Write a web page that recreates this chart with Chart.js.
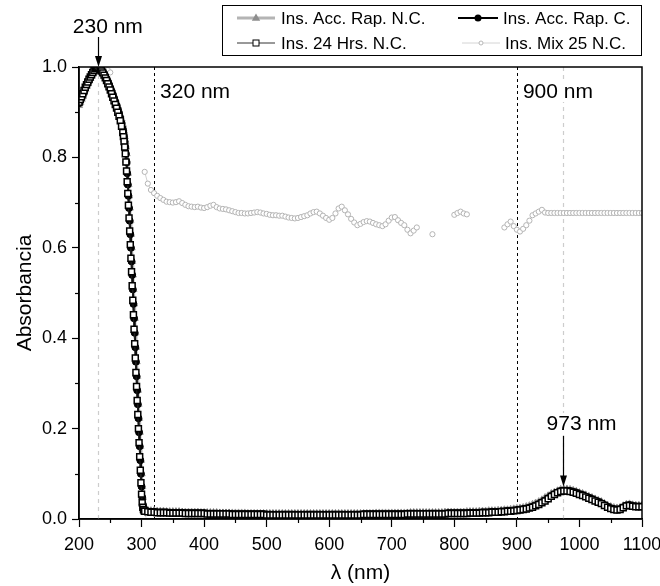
<!DOCTYPE html>
<html>
<head>
<meta charset="utf-8">
<script src="https://cdn.jsdelivr.net/npm/chart.js"></script>
<style>
  html, body { margin: 0; padding: 0; background: #fff; overflow: hidden; }
</style>
</head>
<body>
<canvas id="chart" width="700" height="586"></canvas>
<script>
// Espectros UV-Vis-NIR: absorbancia normalizada vs longitud de onda

const seriesNames = ['Ins. Acc. Rap. N.C.', 'Ins. Acc. Rap. C.', 'Ins. 24 Hrs. N.C.', 'Ins. Mix 25 N.C.'];

// longitudes de onda (nm)
const wlPeak = [200, 202, 204, 206, 208, 210, 212, 214, 216, 218, 220, 222, 224, 226, 228, 230, 232, 234,
  236, 238, 240, 242, 244, 246, 248, 250, 252, 254, 256, 258, 260, 262, 264, 266, 268, 270];
const wlDrop = [271, 272, 273, 274, 275, 276, 277, 278, 279, 280, 281, 282, 283, 284, 285, 286, 287, 288,
  289, 290, 291, 292, 293, 294, 295, 296, 297, 298, 299, 300, 301, 302, 303, 304, 305];
const wlFlat = [
  310, 315, 320, 325, 330, 335, 340, 345, 350, 355,
  360, 365, 370, 375, 380, 385, 390, 395, 400, 405,
  410, 415, 420, 425, 430, 435, 440, 445, 450, 455,
  460, 465, 470, 475, 480, 485, 490, 495, 500, 505,
  510, 515, 520, 525, 530, 535, 540, 545, 550, 555,
  560, 565, 570, 575, 580, 585, 590, 595, 600, 605,
  610, 615, 620, 625, 630, 635, 640, 645, 650, 655,
  660, 665, 670, 675, 680, 685, 690, 695, 700, 705,
  710, 715, 720, 725, 730, 735, 740, 745, 750, 755,
  760, 765, 770, 775, 780, 785, 790, 795, 800, 805,
  810, 815, 820, 825, 830, 835, 840, 845, 850, 855,
  860, 865, 870, 875, 880, 885, 890, 895, 900, 905,
  910, 915, 920, 925, 930, 935, 940, 945, 950, 955,
  960, 965, 970, 975, 980, 985, 990, 995, 1000, 1005,
  1010, 1015, 1020, 1025, 1030, 1035, 1040, 1045, 1050, 1055,
  1060, 1065, 1070, 1075, 1080, 1085, 1090, 1095, 1100];
const wl = wlPeak.concat(wlDrop, wlFlat);

// Ins. Acc. Rap. N.C.
const absAccNC = [
  0.915, 0.921, 0.928, 0.935, 0.943, 0.950, 0.957, 0.963, 0.969, 0.975,
  0.980, 0.985, 0.989, 0.993, 0.996, 0.998, 0.999, 0.998, 0.996, 0.993,
  0.989, 0.984, 0.979, 0.973, 0.967, 0.960, 0.953, 0.946, 0.938, 0.930,
  0.922, 0.914, 0.905, 0.895, 0.885, 0.873,
  0.863, 0.855, 0.846, 0.835, 0.823, 0.808, 0.790, 0.765, 0.740, 0.715,
  0.688, 0.660, 0.630, 0.600, 0.570, 0.540, 0.508, 0.476, 0.444, 0.412,
  0.380, 0.348, 0.316, 0.285, 0.254, 0.223, 0.192, 0.161, 0.130, 0.100,
  0.072, 0.048, 0.032, 0.025, 0.021,
  0.019, 0.018, 0.018, 0.017, 0.017, 0.017, 0.016, 0.016, 0.016, 0.016,
  0.016, 0.015, 0.015, 0.015, 0.015, 0.015, 0.015, 0.014, 0.014, 0.014,
  0.014, 0.014, 0.014, 0.013, 0.013, 0.013, 0.013, 0.013, 0.013, 0.013,
  0.013, 0.013, 0.012, 0.012, 0.012, 0.012, 0.012, 0.012, 0.012, 0.012,
  0.012, 0.012, 0.012, 0.012, 0.012, 0.012, 0.012, 0.012, 0.012, 0.012,
  0.012, 0.012, 0.012, 0.012, 0.012, 0.012, 0.012, 0.012, 0.012, 0.012,
  0.012, 0.012, 0.012, 0.012, 0.012, 0.012, 0.012, 0.012, 0.012, 0.012,
  0.012, 0.012, 0.012, 0.013, 0.013, 0.013, 0.013, 0.013, 0.013, 0.013,
  0.013, 0.013, 0.013, 0.013, 0.014, 0.014, 0.014, 0.014, 0.014, 0.014,
  0.014, 0.014, 0.014, 0.014, 0.014, 0.015, 0.015, 0.015, 0.015, 0.015,
  0.015, 0.015, 0.016, 0.016, 0.016, 0.016, 0.017, 0.017, 0.017, 0.018,
  0.018, 0.018, 0.019, 0.019, 0.020, 0.020, 0.021, 0.022, 0.023, 0.024,
  0.025, 0.027, 0.029, 0.032, 0.035, 0.038, 0.042, 0.047, 0.051, 0.056,
  0.059, 0.062, 0.065, 0.066, 0.066, 0.065, 0.063, 0.061, 0.058, 0.056,
  0.053, 0.050, 0.047, 0.044, 0.041, 0.038, 0.034, 0.030, 0.027, 0.025,
  0.024, 0.025, 0.029, 0.032, 0.033, 0.031, 0.030, 0.030, 0.030];

// Ins. Acc. Rap. C.
const absAccC = [
  0.920, 0.926, 0.932, 0.939, 0.946, 0.953, 0.959, 0.965, 0.971, 0.977,
  0.982, 0.987, 0.991, 0.995, 0.998, 1.000, 0.999, 0.997, 0.994, 0.990,
  0.985, 0.980, 0.974, 0.968, 0.961, 0.954, 0.947, 0.939, 0.931, 0.923,
  0.915, 0.906, 0.897, 0.887, 0.876, 0.863,
  0.855, 0.846, 0.835, 0.823, 0.808, 0.790, 0.765, 0.740, 0.715, 0.688,
  0.660, 0.630, 0.600, 0.570, 0.540, 0.508, 0.476, 0.444, 0.412, 0.380,
  0.348, 0.316, 0.285, 0.254, 0.223, 0.192, 0.161, 0.130, 0.100, 0.072,
  0.048, 0.032, 0.025, 0.021, 0.019,
  0.017, 0.016, 0.016, 0.015, 0.015, 0.015, 0.015, 0.014, 0.014, 0.014,
  0.014, 0.014, 0.013, 0.013, 0.013, 0.013, 0.013, 0.013, 0.013, 0.012,
  0.012, 0.012, 0.012, 0.012, 0.012, 0.012, 0.012, 0.011, 0.011, 0.011,
  0.011, 0.011, 0.011, 0.011, 0.011, 0.011, 0.011, 0.011, 0.010, 0.010,
  0.010, 0.010, 0.010, 0.010, 0.010, 0.010, 0.010, 0.010, 0.010, 0.010,
  0.010, 0.010, 0.010, 0.010, 0.010, 0.010, 0.010, 0.010, 0.010, 0.010,
  0.010, 0.010, 0.010, 0.010, 0.010, 0.010, 0.010, 0.010, 0.010, 0.011,
  0.011, 0.011, 0.011, 0.011, 0.011, 0.011, 0.011, 0.011, 0.011, 0.011,
  0.011, 0.011, 0.011, 0.012, 0.012, 0.012, 0.012, 0.012, 0.012, 0.012,
  0.012, 0.012, 0.012, 0.012, 0.012, 0.012, 0.013, 0.013, 0.013, 0.013,
  0.013, 0.013, 0.013, 0.014, 0.014, 0.014, 0.014, 0.015, 0.015, 0.015,
  0.016, 0.016, 0.016, 0.017, 0.017, 0.018, 0.018, 0.019, 0.020, 0.021,
  0.022, 0.023, 0.025, 0.027, 0.030, 0.033, 0.037, 0.041, 0.046, 0.051,
  0.055, 0.059, 0.062, 0.063, 0.063, 0.062, 0.060, 0.058, 0.055, 0.053,
  0.050, 0.047, 0.044, 0.041, 0.038, 0.035, 0.031, 0.027, 0.024, 0.022,
  0.021, 0.022, 0.026, 0.030, 0.031, 0.029, 0.028, 0.028, 0.028];

// Ins. 24 Hrs. N.C.
const abs24h = [
  0.922, 0.928, 0.934, 0.941, 0.948, 0.955, 0.961, 0.967, 0.973, 0.978,
  0.983, 0.988, 0.992, 0.996, 0.999, 1.000, 0.998, 0.995, 0.991, 0.987,
  0.982, 0.976, 0.970, 0.963, 0.956, 0.949, 0.941, 0.933, 0.925, 0.917,
  0.909, 0.900, 0.891, 0.881, 0.869, 0.855,
  0.846, 0.835, 0.823, 0.808, 0.790, 0.770, 0.746, 0.720, 0.694, 0.666,
  0.637, 0.607, 0.577, 0.547, 0.516, 0.484, 0.452, 0.420, 0.388, 0.356,
  0.324, 0.293, 0.262, 0.231, 0.200, 0.169, 0.138, 0.108, 0.080, 0.055,
  0.036, 0.026, 0.021, 0.018, 0.017,
  0.016, 0.015, 0.015, 0.014, 0.014, 0.014, 0.014, 0.013, 0.013, 0.013,
  0.013, 0.013, 0.012, 0.012, 0.012, 0.012, 0.012, 0.012, 0.012, 0.011,
  0.011, 0.011, 0.011, 0.011, 0.011, 0.011, 0.011, 0.010, 0.010, 0.010,
  0.010, 0.010, 0.010, 0.010, 0.010, 0.010, 0.010, 0.010, 0.009, 0.009,
  0.009, 0.009, 0.009, 0.009, 0.009, 0.009, 0.009, 0.009, 0.009, 0.009,
  0.009, 0.009, 0.009, 0.009, 0.009, 0.009, 0.009, 0.009, 0.009, 0.009,
  0.009, 0.009, 0.009, 0.009, 0.009, 0.009, 0.009, 0.009, 0.009, 0.010,
  0.010, 0.010, 0.010, 0.010, 0.010, 0.010, 0.010, 0.010, 0.010, 0.010,
  0.010, 0.010, 0.010, 0.011, 0.011, 0.011, 0.011, 0.011, 0.011, 0.011,
  0.011, 0.011, 0.011, 0.011, 0.011, 0.011, 0.012, 0.012, 0.012, 0.012,
  0.012, 0.012, 0.012, 0.013, 0.013, 0.013, 0.013, 0.014, 0.014, 0.014,
  0.015, 0.015, 0.015, 0.016, 0.016, 0.017, 0.017, 0.018, 0.019, 0.020,
  0.021, 0.022, 0.024, 0.026, 0.029, 0.032, 0.036, 0.040, 0.045, 0.050,
  0.054, 0.058, 0.061, 0.062, 0.062, 0.061, 0.059, 0.057, 0.054, 0.052,
  0.049, 0.046, 0.043, 0.040, 0.037, 0.034, 0.030, 0.026, 0.023, 0.021,
  0.020, 0.021, 0.025, 0.029, 0.030, 0.028, 0.027, 0.027, 0.027];

// Ins. Mix 25 N.C. (null = sin lectura)
const wlMix = [226, 230, 234, 238, 242, 246, 250, 280, 305].concat(wlFlat);
const absMix = [
  0.990, 0.995, 0.998, 0.998, 0.996, 0.993, 0.988, null, 0.768,
  0.742, 0.728, 0.721, 0.715, 0.710, 0.706, 0.702, 0.701, 0.700, 0.701,
  0.703, 0.699, 0.695, 0.692, 0.691, 0.690, 0.691, 0.689, 0.688, 0.690,
  0.693, 0.695, 0.690, 0.687, 0.686, 0.685, 0.683, 0.681, 0.679, 0.677,
  0.677, 0.676, 0.676, 0.677, 0.678, 0.679, 0.678, 0.676, 0.675, 0.673,
  0.672, 0.672, 0.671, 0.671, 0.669, 0.667, 0.666, 0.665, 0.666, 0.668,
  0.670, 0.672, 0.676, 0.679, 0.680, 0.676, 0.671, 0.666, 0.662, 0.666,
  0.676, 0.687, 0.691, 0.683, 0.674, 0.664, 0.656, 0.650, 0.653, 0.657,
  0.659, 0.658, 0.655, 0.652, 0.650, 0.648, 0.652, 0.660, 0.667, 0.668,
  0.661, 0.655, 0.650, 0.640, 0.632, 0.638, 0.645, null, null, null,
  null, 0.630, null, null, null, null, null, null, 0.673, 0.677,
  0.680, 0.676, 0.674, null, null, null, null, null, null, null,
  null, null, null, null, 0.645, 0.652, 0.658, 0.648, 0.640, 0.636,
  0.642, 0.650, 0.660, 0.672, 0.676, 0.680, 0.684, 0.678, 0.677, 0.677,
  0.677, 0.677, 0.677, 0.677, 0.677, 0.677, 0.677, 0.677, 0.677, 0.677,
  0.677, 0.677, 0.677, 0.677, 0.677, 0.677, 0.677, 0.677, 0.677, 0.677,
  0.677, 0.677, 0.677, 0.677, 0.677, 0.677, 0.677, 0.677, 0.677];

const yTicks = [0, 0.2, 0.4, 0.6, 0.8, 1.0];
const xMinor = [250, 350, 450, 550, 650, 750, 850, 950, 1050];
const yMinor = [0.1, 0.3, 0.5, 0.7, 0.9];
const peakLines = [230, 973];   // picos marcados (gris)
const cutLines = [320, 900];    // límites de zona (negro)

const FONT = 'Arial, "Liberation Sans", Helvetica, sans-serif';
Chart.defaults.font.family = FONT;
Chart.defaults.color = '#000';

function pts(xs, ys) {
  return xs.map((v, i) => ({ x: v, y: ys[i] }));
}

function vline(ctx, px, y1, y2) {
  ctx.beginPath();
  ctx.moveTo(px, y1);
  ctx.lineTo(px, y2);
  ctx.stroke();
}

function arrowDown(ctx, px, y1, y2) {
  ctx.strokeStyle = '#000';
  ctx.fillStyle = '#000';
  ctx.lineWidth = 1.2;
  ctx.setLineDash([]);
  vline(ctx, px, y1, y2 - 8);
  ctx.beginPath();
  ctx.moveTo(px, y2);
  ctx.lineTo(px - 3.5, y2 - 11);
  ctx.lineTo(px + 3.5, y2 - 11);
  ctx.closePath();
  ctx.fill();
}

function marker(ctx, kind, x, y) {
  ctx.setLineDash([]);
  if (kind === 'triangle') {
    ctx.fillStyle = '#8e8e8e';
    ctx.beginPath();
    ctx.moveTo(x, y - 4.5);
    ctx.lineTo(x + 4.2, y + 2.8);
    ctx.lineTo(x - 4.2, y + 2.8);
    ctx.closePath();
    ctx.fill();
  } else if (kind === 'circle') {
    ctx.fillStyle = '#000';
    ctx.beginPath();
    ctx.arc(x, y, 3.5, 0, Math.PI * 2);
    ctx.fill();
  } else if (kind === 'rect') {
    ctx.fillStyle = '#fff';
    ctx.strokeStyle = '#000';
    ctx.lineWidth = 1;
    ctx.fillRect(x - 3, y - 3, 6, 6);
    ctx.strokeRect(x - 3, y - 3, 6, 6);
  } else {
    ctx.fillStyle = '#fff';
    ctx.strokeStyle = '#b8b8b8';
    ctx.lineWidth = 1;
    ctx.beginPath();
    ctx.arc(x, y, 2, 0, Math.PI * 2);
    ctx.fill();
    ctx.stroke();
  }
}

const decor = {
  id: 'decor',
  beforeDatasetsDraw(chart) {
    const { ctx, chartArea: a, scales: { x } } = chart;
    ctx.save();
    ctx.lineWidth = 1.2;
    ctx.strokeStyle = '#cdcdcd';
    ctx.setLineDash([4, 4]);
    peakLines.forEach(v => vline(ctx, Math.round(x.getPixelForValue(v)) + 0.5, a.top, a.bottom));
    ctx.lineWidth = 1;
    ctx.strokeStyle = '#000';
    ctx.setLineDash([3, 3]);
    cutLines.forEach(v => vline(ctx, Math.round(x.getPixelForValue(v)) + 0.5, a.top, a.bottom));
    ctx.restore();
  },
  afterDatasetsDraw(chart) {
    const { ctx, chartArea: a, scales: { x, y } } = chart;
    ctx.save();
    // marco completo
    ctx.setLineDash([]);
    ctx.strokeStyle = '#000';
    ctx.lineWidth = 1.5;
    ctx.strokeRect(a.left, a.top, a.right - a.left, a.bottom - a.top);
    // ticks menores
    ctx.lineWidth = 1.2;
    xMinor.forEach(v => {
      const px = Math.round(x.getPixelForValue(v)) + 0.5;
      vline(ctx, px, a.bottom, a.bottom + 4);
    });
    yMinor.forEach(v => {
      const py = Math.round(y.getPixelForValue(v)) + 0.5;
      ctx.beginPath();
      ctx.moveTo(a.left - 4, py);
      ctx.lineTo(a.left, py);
      ctx.stroke();
    });

    // etiquetas de las líneas
    ctx.font = '21px ' + FONT;
    ctx.textBaseline = 'alphabetic';
    ctx.textAlign = 'left';
    const label = (txt, lx, ly) => {
      const w = ctx.measureText(txt).width;
      ctx.fillStyle = '#fff';
      ctx.fillRect(lx - 1, ly - 17, w + 2, 21);
      ctx.fillStyle = '#000';
      ctx.fillText(txt, lx, ly);
    };
    const p230 = x.getPixelForValue(peakLines[0]);
    const p973 = x.getPixelForValue(peakLines[1]);
    const p320 = x.getPixelForValue(cutLines[0]);
    const p900 = x.getPixelForValue(cutLines[1]);
    ctx.fillStyle = '#000';
    ctx.fillText('230 nm', p230 - 25, 33);
    arrowDown(ctx, Math.round(p230) + 0.5, 37, a.top);
    label('320 nm', p320 + 6, 98);
    label('900 nm', p900 + 6, 98);
    label('973 nm', p973 - 16, 430);
    arrowDown(ctx, Math.round(p973) + 0.5, 436, y.getPixelForValue(0.063) - 4);

    // leyenda
    const bx = 222, by = 5, bw = 419, bh = 50;
    ctx.fillStyle = '#fff';
    ctx.fillRect(bx, by, bw, bh);
    ctx.strokeStyle = '#000';
    ctx.lineWidth = 1;
    ctx.setLineDash([]);
    ctx.strokeRect(bx + 0.5, by + 0.5, bw, bh);
    const rows = [by + 13, by + 38];
    const items = [
      { name: seriesNames[0], x1: 237, x2: 275, tx: 281, row: 0, lc: '#b4b4b4', lw: 3, mk: 'triangle' },
      { name: seriesNames[1], x1: 458, x2: 498, tx: 503, row: 0, lc: '#000', lw: 2, mk: 'circle' },
      { name: seriesNames[2], x1: 237, x2: 275, tx: 281, row: 1, lc: '#333', lw: 1, mk: 'rect' },
      { name: seriesNames[3], x1: 462, x2: 500, tx: 505, row: 1, lc: '#d4d4d4', lw: 1, mk: 'ring' }
    ];
    ctx.font = '17px ' + FONT;
    ctx.textBaseline = 'middle';
    items.forEach(it => {
      const ry = rows[it.row];
      ctx.strokeStyle = it.lc;
      ctx.lineWidth = it.lw;
      ctx.beginPath();
      ctx.moveTo(it.x1, ry);
      ctx.lineTo(it.x2, ry);
      ctx.stroke();
      marker(ctx, it.mk, (it.x1 + it.x2) / 2, ry);
      ctx.fillStyle = '#000';
      ctx.fillText(it.name, it.tx, ry + 1);
    });
    ctx.restore();
  }
};

new Chart(document.getElementById('chart'), {
  type: 'line',
  data: {
    datasets: [
      {
        label: seriesNames[3], data: pts(wlMix, absMix), order: 4, spanGaps: false,
        borderColor: '#d0d0d0', borderWidth: 1,
        pointStyle: 'circle', pointRadius: 2.6, pointBorderWidth: 1,
        pointBackgroundColor: '#fff', pointBorderColor: '#b4b4b4'
      },
      {
        label: seriesNames[0], data: pts(wl, absAccNC), order: 3,
        borderColor: '#b0b0b0', borderWidth: 3,
        pointStyle: 'triangle', pointRadius: 4.2, pointBorderWidth: 1,
        pointBackgroundColor: '#999', pointBorderColor: '#999'
      },
      {
        label: seriesNames[1], data: pts(wl, absAccC), order: 2,
        borderColor: '#000', borderWidth: 2,
        pointStyle: 'circle', pointRadius: 3.5, pointBorderWidth: 1,
        pointBackgroundColor: '#000', pointBorderColor: '#000'
      },
      {
        label: seriesNames[2], data: pts(wl, abs24h), order: 1,
        borderColor: '#222', borderWidth: 1,
        pointStyle: 'rect', pointRadius: 4.2, pointBorderWidth: 1.5,
        pointBackgroundColor: '#fff', pointBorderColor: '#000'
      }
    ]
  },
  options: {
    responsive: false,
    animation: false,
    devicePixelRatio: 1,
    layout: { padding: { top: 67, right: 58, bottom: 0, left: 0 } },
    plugins: { legend: { display: false }, tooltip: { enabled: false } },
    elements: { line: { tension: 0 } },
    scales: {
      x: {
        type: 'linear', min: 200, max: 1100,
        ticks: { stepSize: 100, color: '#000', font: { size: 18 }, padding: 7, maxRotation: 0, autoSkip: false,
          callback: v => String(v) },
        grid: { drawOnChartArea: false, drawTicks: true, tickLength: 8, tickColor: '#000', tickWidth: 1.2 },
        border: { display: true, color: '#000', width: 1.5 },
        title: { display: true, text: 'λ (nm)', color: '#000', font: { size: 21 }, padding: { top: 0, bottom: 0 } },
        afterFit(s) { s.height = 67; }
      },
      y: {
        type: 'linear', min: 0, max: 1,
        afterBuildTicks(s) { s.ticks = yTicks.map(v => ({ value: v })); },
        ticks: { color: '#000', font: { size: 18 }, padding: 5, callback: v => v.toFixed(1) },
        grid: { drawOnChartArea: false, drawTicks: true, tickLength: 7, tickColor: '#000', tickWidth: 1.2 },
        border: { display: true, color: '#000', width: 1.5 },
        title: { display: true, text: 'Absorbancia', color: '#000', font: { size: 21 }, padding: { top: 13, bottom: 0 } },
        afterFit(s) { s.width = 79; }
      }
    }
  },
  plugins: [decor]
});
</script>
</body>
</html>
